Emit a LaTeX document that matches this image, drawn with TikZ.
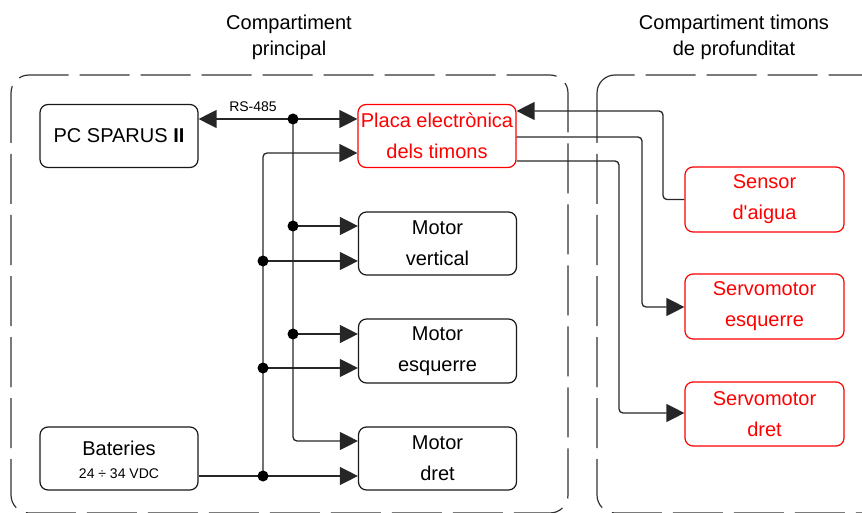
\documentclass[tikz,border=0pt]{standalone}
\usepackage{fontspec}
\setmainfont{Liberation Sans}[Ligatures=TeXOff]
\usetikzlibrary{arrows.meta}
\begin{document}
\begin{tikzpicture}[x=1pt,y=-1pt,
  box/.style={draw=black!90, line width=1.2pt, rounded corners=8pt, minimum width=158pt, minimum height=63pt, align=center, inner sep=0pt, font=\fontsize{20}{31}\selectfont},
  redbox/.style={box, draw=red, text=red},
  conn/.style={draw=black!85, line width=1.3pt, rounded corners=4pt},
  tip/.style={-{Triangle[length=18pt,width=18pt]}},
  dot/.style={circle, fill=black, inner sep=0pt, minimum size=11pt},
  comp/.style={draw=black!80, line width=1.2pt, rounded corners=18pt, dash pattern=on 50pt off 11pt},
  title/.style={font=\fontsize{20}{26}\selectfont, align=center}
]
\useasboundingbox (0,0) rectangle (862,513);
\begin{scope}
\clip (0,0) rectangle (862,513);
\draw[comp] (11,75) rectangle (568,513);
\draw[comp] (597,75) rectangle (900,513);
\end{scope}

\node[title] (t1) at (289,37) {Compartiment\\principal};
\node[title] (t2) at (734,37) {Compartiment timons\\de profunditat};

\node[box] (pc) at (119,136) {PC SPARUS \textbf{II}};
\node[redbox] (placa) at (437,136) {Placa electrònica\\dels timons};
\node[redbox, minimum width=159pt, minimum height=65pt] (sensor) at (764.5,199.5) {Sensor\\d'aigua};
\node[redbox, minimum width=159pt, minimum height=65pt] (sesq) at (764.5,306.5) {Servomotor\\esquerre};
\node[redbox, minimum width=159pt, minimum height=64pt] (sdret) at (764.5,414) {Servomotor\\dret};
\node[box, minimum height=63pt] (mv) at (437.5,243.5) {Motor\\vertical};
\node[box, minimum height=64pt] (me) at (437.5,351) {Motor\\esquerre};
\node[box, minimum height=63pt] (md) at (437.5,458.5) {Motor\\dret};
\node[box, minimum height=63pt] (bat) at (119,458.5) {};
\node[font=\fontsize{20}{24}\selectfont] (batt) at (119,448) {Bateries};
\node[font=\fontsize{14}{16}\selectfont] (batv) at (119,474) {24 ÷ 34 VDC};

% junction coordinates
\coordinate (j0) at (293,119);
\coordinate (j1) at (293,226);
\coordinate (j2) at (293,334);
\coordinate (p0) at (263,476);
\coordinate (p1) at (263,261);
\coordinate (p2) at (263,368);

% RS-485 bus
\draw[conn, {Triangle[length=18pt,width=18pt]}-{Triangle[length=18pt,width=18pt]}] (pc.east |- j0) -- (placa.west |- j0);
\node[font=\fontsize{14}{16}\selectfont, anchor=south] (rs) at (253,115) {RS-485};
\draw[conn, tip] (j0) -- (293,441) -- (md.west |- 0,441);
\draw[conn, tip] (j1) -- (mv.west |- j1);
\draw[conn, tip] (j2) -- (me.west |- j2);

% power bus
\draw[conn, tip] (bat.east |- p0) -- (md.west |- p0);
\draw[conn, tip] (p0) -- (263,153) -- (placa.west |- 0,153);
\draw[conn, tip] (p1) -- (mv.west |- p1);
\draw[conn, tip] (p2) -- (me.west |- p2);

% right side
\draw[conn, tip] (sensor.west) -- (663,199.5) -- (663,111) -- (placa.east |- 0,111);
\draw[conn, tip] (placa.east |- 0,137) -- (642,137) -- (642,307) -- (sesq.west |- 0,307);
\draw[conn, tip] (placa.east |- 0,161) -- (619,161) -- (619,413) -- (sdret.west |- 0,413);

\node[dot] (d0) at (j0) {};
\node[dot] (d1) at (j1) {};
\node[dot] (d2) at (j2) {};
\node[dot] (d3) at (p0) {};
\node[dot] (d4) at (p1) {};
\node[dot] (d5) at (p2) {};
\end{tikzpicture}
\end{document}
